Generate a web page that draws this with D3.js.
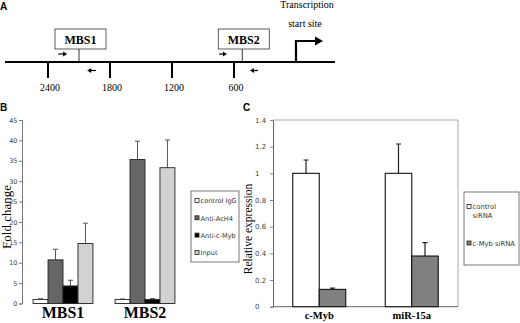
<!DOCTYPE html>
<html>
<head>
<meta charset="utf-8">
<script src="https://cdn.jsdelivr.net/npm/d3@7"></script>
<style>
  body { margin: 0; background: #fff; }
  svg { display: block; }
</style>
</head>
<body>
<script>
// ---- panel A: promoter map ----
var mapTicks = [2400, 1800, 1200, 600];
var siteNames = ['MBS1', 'MBS2'];
var sitePositions = [2100, 520];
// primer arrows: [start bp, end bp]
var forwardPrimers = [[2300, 2215], [745, 668]];
var reversePrimers = [[1935, 2020], [368, 445]];

// ---- panel B: ChIP ----
var chipSites = ['MBS1', 'MBS2'];
var chipSeries = ['control IgG', 'Anti-AcH4', 'Anti-c-Myb', 'Input'];
var controlIgG = [1.0, 1.0];
var antiAcH4 = [10.7, 35.3];
var antiCMyb = [4.3, 1.0];
var inputDna = [14.7, 33.3];
var controlIgGErr = [0.15, 0.1];
var antiAcH4Err = [2.6, 4.5];
var antiCMybErr = [1.4, 0.2];
var inputDnaErr = [5.0, 6.8];
var chipTicks = [0, 5, 10, 15, 20, 25, 30, 35, 40, 45];

// ---- panel C: siRNA ----
var genes = ['c-Myb', 'miR-15a'];
var siSeries = ['control siRNA', 'c-Myb siRNA'];
var controlSiRNA = [1.0, 1.0];
var cMybSiRNA = [0.13, 0.38];
var controlSiRNAErr = [0.1, 0.22];
var cMybSiRNAErr = [0.01, 0.1];
var exprTicks = [0, 0.2, 0.4, 0.6, 0.8, 1, 1.2, 1.4];

var width = 520, height = 323;
var svg = d3.select('body').append('svg')
  .attr('width', width)
  .attr('height', height);

var serif = '"Liberation Serif", "Times New Roman", serif';
var sans = '"DejaVu Sans", Verdana, sans-serif';
var arial = '"Liberation Sans", Arial, sans-serif';

// panel letters
[['A', 0, 10], ['B', 0, 111], ['C', 243, 111]].forEach(function(p) {
  svg.append('text').text(p[0])
    .attr('x', p[1]).attr('y', p[2])
    .style('font-family', arial).style('font-weight', 'bold')
    .style('font-size', '10px');
});

// =========== A ===========
var bp = d3.scaleLinear().domain([2400, 600]).range([48, 234]);
var lineY = 62;
var gA = svg.append('g');

gA.append('line')
  .attr('x1', bp(2816)).attr('x2', bp(-378))
  .attr('y1', lineY).attr('y2', lineY)
  .attr('stroke', '#000').attr('stroke-width', 2);

gA.selectAll('.mtick').data(mapTicks).enter().append('line')
  .attr('x1', function(d) { return bp(d); })
  .attr('x2', function(d) { return bp(d); })
  .attr('y1', lineY).attr('y2', lineY + 16)
  .attr('stroke', '#000').attr('stroke-width', 2);

gA.selectAll('.mlab').data(mapTicks).enter().append('text')
  .text(function(d) { return d; })
  .attr('x', function(d) { return bp(d) + 2; })
  .attr('y', 91)
  .attr('text-anchor', 'middle')
  .style('font-family', serif).style('font-size', '10px');

// binding sites
siteNames.forEach(function(name, i) {
  var x = bp(sitePositions[i]);
  gA.append('line')
    .attr('x1', x).attr('x2', x)
    .attr('y1', 49).attr('y2', lineY)
    .attr('stroke', '#000').attr('stroke-width', 0.8);
  gA.append('rect')
    .attr('x', x - 24).attr('y', 29)
    .attr('width', 51).attr('height', 20)
    .attr('fill', '#fff').attr('stroke', '#333').attr('stroke-width', 0.8);
  gA.append('text').text(name)
    .attr('x', x + 1.5).attr('y', 43.5)
    .attr('text-anchor', 'middle')
    .style('font-family', serif).style('font-weight', 'bold')
    .style('font-size', '12px');
});

function primer(p, y) {
  var x1 = bp(p[0]), x2 = bp(p[1]);
  var dir = x2 > x1 ? 1 : -1;
  gA.append('line')
    .attr('x1', x1).attr('x2', x2 - dir * 3)
    .attr('y1', y).attr('y2', y)
    .attr('stroke', '#000').attr('stroke-width', 1.2);
  gA.append('path')
    .attr('d', 'M' + x2 + ',' + y + 'L' + (x2 - dir * 4) + ',' + (y - 2.5) +
      'L' + (x2 - dir * 4) + ',' + (y + 2.5) + 'Z')
    .attr('fill', '#000');
}
forwardPrimers.forEach(function(p) { primer(p, 54); });
reversePrimers.forEach(function(p) { primer(p, 70.5); });

// transcription start
var tss = bp(0);
gA.append('path')
  .attr('d', 'M' + tss + ',' + lineY + 'V41H' + (tss + 20))
  .attr('fill', 'none').attr('stroke', '#000').attr('stroke-width', 2.2);
gA.append('path')
  .attr('d', 'M' + (tss + 27) + ',41L' + (tss + 19) + ',36.5L' + (tss + 19) + ',45.5Z')
  .attr('fill', '#000');
gA.append('text').text('Transcription')
  .attr('x', tss + 11).attr('y', 8)
  .attr('text-anchor', 'middle')
  .style('font-family', serif).style('font-size', '10px');
gA.append('text').text('start site')
  .attr('x', tss + 9).attr('y', 27)
  .attr('text-anchor', 'middle')
  .style('font-family', serif).style('font-size', '10px');

// =========== B ===========
var chipData = [controlIgG, antiAcH4, antiCMyb, inputDna];
var chipErr = [controlIgGErr, antiAcH4Err, antiCMybErr, inputDnaErr];
var chipFill = ['#ffffff', '#666666', '#000000', '#d2d2d2'];

var yB = d3.scaleLinear().domain([0, 45]).range([303.5, 120]);
var x0B = d3.scaleBand().domain(chipSites).range([22, 186])
  .paddingInner(0.27).paddingOuter(0.135);
var x1B = d3.scaleBand().domain(chipSeries).range([0, x0B.bandwidth()]);

var gB = svg.append('g');
var axB = gB.append('g')
  .attr('transform', 'translate(22,0)')
  .call(d3.axisLeft(yB).tickValues(chipTicks).tickSize(3).tickPadding(1.5));
axB.select('.domain').attr('stroke', '#777');
axB.selectAll('.tick line').attr('stroke', '#777');
axB.selectAll('text')
  .style('font-family', sans).style('font-size', '6.5px').attr('fill', '#444');

var barsB = [];
chipSites.forEach(function(site, i) {
  chipSeries.forEach(function(s, j) {
    barsB.push({site: site, series: s, v: chipData[j][i], e: chipErr[j][i], fill: chipFill[j]});
  });
});

gB.selectAll('.errB').data(barsB).enter().append('path')
  .attr('d', function(d) {
    var cx = x0B(d.site) + x1B(d.series) + x1B.bandwidth() / 2;
    var yt = yB(d.v + d.e);
    return 'M' + cx + ',' + yB(d.v) + 'V' + yt + 'M' + (cx - 2.5) + ',' + yt + 'H' + (cx + 2.5);
  })
  .attr('stroke', '#555').attr('stroke-width', 1).attr('fill', 'none');

gB.selectAll('.barB').data(barsB).enter().append('rect')
  .attr('x', function(d) { return x0B(d.site) + x1B(d.series); })
  .attr('y', function(d) { return yB(d.v); })
  .attr('width', x1B.bandwidth())
  .attr('height', function(d) { return yB(0) - yB(d.v); })
  .attr('fill', function(d) { return d.fill; })
  .attr('stroke', '#222').attr('stroke-width', 0.9);

gB.selectAll('.catB').data(chipSites).enter().append('text')
  .text(function(d) { return d; })
  .attr('x', function(d) { return x0B(d) + x0B.bandwidth() / 2; })
  .attr('y', 318)
  .attr('text-anchor', 'middle')
  .style('font-family', serif).style('font-weight', 'bold').style('font-size', '16px');

gB.append('text').text('Fold change')
  .attr('transform', 'translate(10.5,217) rotate(-90)')
  .attr('text-anchor', 'middle')
  .style('font-family', serif).style('font-size', '13px');

// legend B
var legB = gB.append('g').attr('transform', 'translate(191,191)');
legB.append('rect').attr('width', 48).attr('height', 71)
  .attr('fill', '#fff').attr('stroke', '#555').attr('stroke-width', 0.8);
chipSeries.forEach(function(s, j) {
  var yy = 10 + j * 17.3;
  legB.append('rect').attr('x', 4).attr('y', yy - 2.5).attr('width', 4).attr('height', 4)
    .attr('fill', chipFill[j]).attr('stroke', '#222').attr('stroke-width', 0.8);
  legB.append('text').text(s).attr('x', 9.5).attr('y', yy + 2.3)
    .style('font-family', sans).style('font-size', '6.6px').attr('fill', '#333');
});

// =========== C ===========
var siData = [controlSiRNA, cMybSiRNA];
var siErr = [controlSiRNAErr, cMybSiRNAErr];
var siFill = ['#ffffff', '#808080'];

var yC = d3.scaleLinear().domain([0, 1.4]).range([306.7, 120]);
var x0C = d3.scaleBand().domain(genes).range([273, 458])
  .paddingInner(0.427).paddingOuter(0.2135);
var x1C = d3.scaleBand().domain(siSeries).range([0, x0C.bandwidth()]);

var gC = svg.append('g');
// frame
gC.append('path')
  .attr('d', 'M273,120H458V306.7')
  .attr('fill', 'none').attr('stroke', '#aaa').attr('stroke-width', 1);
gC.append('line').attr('x1', 273).attr('x2', 458).attr('y1', 306.7).attr('y2', 306.7)
  .attr('stroke', '#666').attr('stroke-width', 1);

var axC = gC.append('g')
  .attr('transform', 'translate(273,0)')
  .call(d3.axisLeft(yC).tickValues(exprTicks).tickSize(3).tickFormat(d3.format('~g')));
axC.select('.domain').attr('stroke', '#666');
axC.selectAll('.tick line').attr('stroke', '#888');
axC.selectAll('text')
  .attr('x', -18).attr('text-anchor', 'start')
  .style('font-family', sans).style('font-size', '7px').attr('fill', '#444');

var barsC = [];
genes.forEach(function(g, i) {
  siSeries.forEach(function(s, j) {
    barsC.push({gene: g, series: s, v: siData[j][i], e: siErr[j][i], fill: siFill[j]});
  });
});

gC.selectAll('.errC').data(barsC).enter().append('path')
  .attr('d', function(d) {
    var cx = x0C(d.gene) + x1C(d.series) + x1C.bandwidth() / 2;
    var yt = yC(d.v + d.e);
    return 'M' + cx + ',' + yC(d.v) + 'V' + yt + 'M' + (cx - 2.5) + ',' + yt + 'H' + (cx + 2.5);
  })
  .attr('stroke', '#222').attr('stroke-width', 1.2).attr('fill', 'none');

gC.selectAll('.barC').data(barsC).enter().append('rect')
  .attr('x', function(d) { return x0C(d.gene) + x1C(d.series); })
  .attr('y', function(d) { return yC(d.v); })
  .attr('width', x1C.bandwidth())
  .attr('height', function(d) { return yC(0) - yC(d.v); })
  .attr('fill', function(d) { return d.fill; })
  .attr('stroke', '#111').attr('stroke-width', 1.1);

gC.selectAll('.catC').data(genes).enter().append('text')
  .text(function(d) { return d; })
  .attr('x', function(d) { return x0C(d) + x0C.bandwidth() / 2; })
  .attr('y', 319)
  .attr('text-anchor', 'middle')
  .style('font-family', serif).style('font-weight', 'bold').style('font-size', '10.5px');

gC.append('text').text('Relative expression')
  .attr('transform', 'translate(252,229) rotate(-90)')
  .attr('text-anchor', 'middle')
  .style('font-family', serif).style('font-size', '11.5px');

// legend C
var legC = gC.append('g').attr('transform', 'translate(464,192)');
legC.append('rect').attr('width', 55).attr('height', 73)
  .attr('fill', '#fff').attr('stroke', '#555').attr('stroke-width', 0.8);
legC.append('rect').attr('x', 3).attr('y', 12.5).attr('width', 4).attr('height', 4)
  .attr('fill', siFill[0]).attr('stroke', '#222').attr('stroke-width', 0.8);
legC.append('text').text('control').attr('x', 8.5).attr('y', 17)
  .style('font-family', sans).style('font-size', '6.8px').attr('fill', '#333');
legC.append('text').text('siRNA').attr('x', 8.5).attr('y', 25.5)
  .style('font-family', sans).style('font-size', '6.8px').attr('fill', '#333');
legC.append('rect').attr('x', 3).attr('y', 49).attr('width', 4).attr('height', 4)
  .attr('fill', siFill[1]).attr('stroke', '#222').attr('stroke-width', 0.8);
legC.append('text').text(siSeries[1]).attr('x', 8.5).attr('y', 53.5)
  .style('font-family', sans).style('font-size', '6.8px').attr('fill', '#333');
</script>
</body>
</html>
